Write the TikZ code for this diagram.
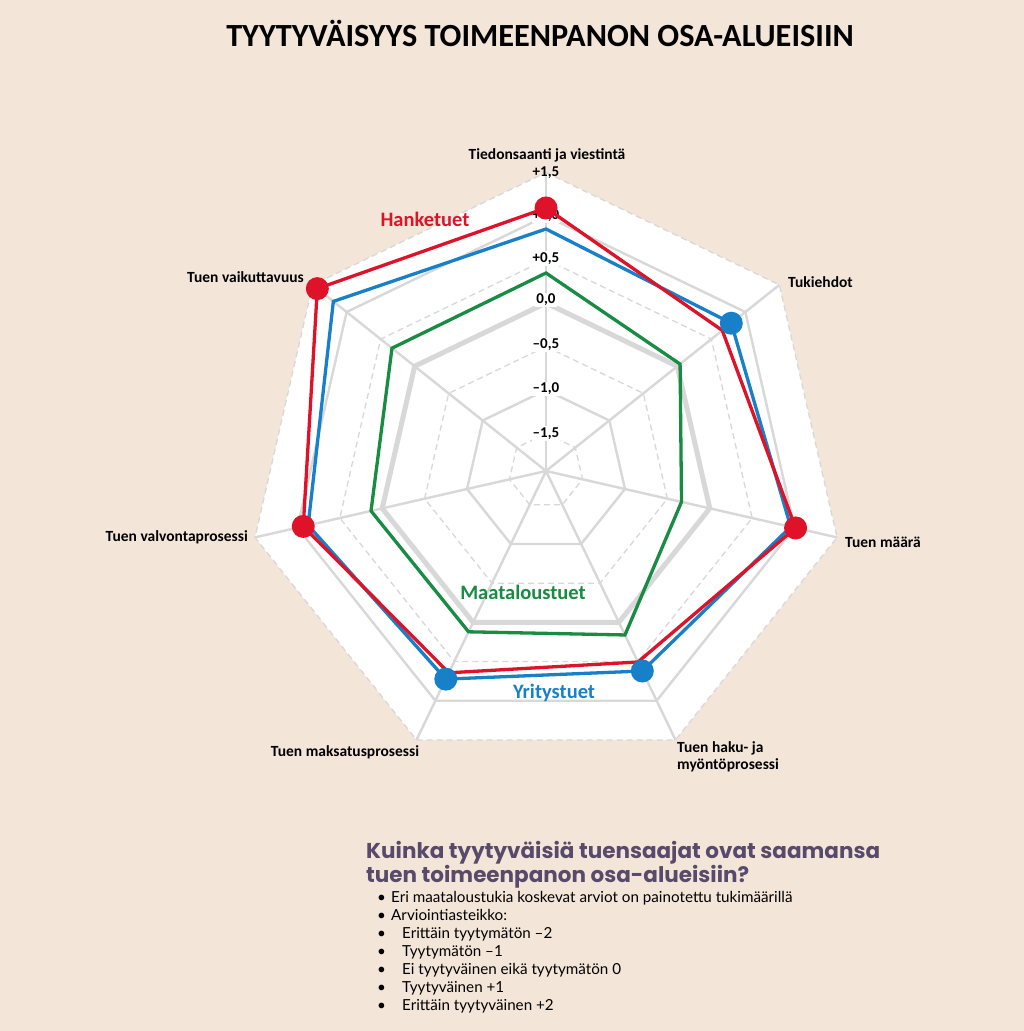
\documentclass[tikz,border=0pt]{standalone}
\usepackage{fontspec}
\setmainfont{Carlito}
\newfontfamily\headfont{Poppins}
\newfontfamily\listfont{Lato}
\definecolor{bgc}{RGB}{243,230,217}
\definecolor{redc}{RGB}{222,18,40}
\definecolor{bluec}{RGB}{24,128,200}
\definecolor{greenc}{RGB}{24,140,66}
\definecolor{gridc}{RGB}{216,216,216}
\definecolor{headc}{RGB}{88,74,106}
\tikzset{
  gridsolid/.style={draw=gridc, line width=2.4pt},
  gridthick/.style={draw=gridc, line width=5pt},
  griddash/.style={draw=gridc, line width=1.3pt, dash pattern=on 6pt off 4pt},
  redline/.style={draw=redc, line width=3.3pt, line join=miter},
  blueline/.style={draw=bluec, line width=3.3pt, line join=miter},
  greenline/.style={draw=greenc, line width=3.3pt, line join=miter},
  reddot/.style={circle, fill=redc, minimum size=23pt, inner sep=0pt},
  bluedot/.style={circle, fill=bluec, minimum size=23pt, inner sep=0pt},
  axlabel/.style={font=\bfseries\fontsize{15.5}{17}\selectfont, inner sep=1pt},
  scalelabel/.style={font=\bfseries\fontsize{15}{17}\selectfont, fill=white, inner sep=1.2pt},
  serlabel/.style={font=\bfseries\fontsize{20.5}{22}\selectfont, inner sep=0pt},
  headtext/.style={font=\headfont\bfseries\fontsize{21.5}{24}\selectfont, text=headc, anchor=west, inner sep=0pt, text height=16pt, text depth=3pt},
  listtext/.style={font=\listfont\fontsize{15.2}{17}\selectfont, anchor=west, inner sep=0pt, text height=11pt, text depth=3pt},
}
\begin{document}
\begin{tikzpicture}[x=1pt,y=1pt]
\fill[bgc] (0,0) rectangle (1024,1031);
\useasboundingbox (0,0) rectangle (1024,1031);

% title
\node[font=\bfseries\fontsize{32.3}{34}\selectfont] (title) at (540,998) {TYYTYVÄISYYS TOIMEENPANON OSA-ALUEISIIN};

\coordinate (C) at (546,560);
\begin{scope}[shift={(546,560)}]
  % outer white area
  \fill[white] (90:298.5) \foreach \k in {1,...,6}{ -- ({90-\k*360/7}:298.5)} -- cycle;
  % spokes
  \foreach \k in {0,...,6}{
    \coordinate (A\k) at ({90-\k*360/7}:298.5);
  }
  \foreach \k in {0,...,6}{ \draw[gridsolid] (C) -- (A\k); }
  % rings
  \foreach \r/\s in {37.5/griddash,81/gridsolid,124.5/griddash,168/gridthick,211.5/griddash,255/gridsolid,298.5/griddash}{
    \draw[\s] (90:\r) \foreach \k in {1,...,6}{ -- ({90-\k*360/7}:\r)} -- cycle;
  }
  % scale labels
  \node[scalelabel] (s1) at (90:37.5) {–1,5};
  \node[scalelabel] (s2) at (90:82) {–1,0};
  \node[scalelabel] (s3) at (90:126) {–0,5};
  \node[scalelabel] (s4) at (90:171) {0,0};
  \node[scalelabel] (s5) at (90:212.5) {+0,5};
  \node[scalelabel] (s6) at (90:255) {+1,0};
  \node[axlabel, font=\bfseries\fontsize{15}{17}\selectfont] (s7) at (90:298.5) {+1,5};

  % data: radii in px
  \foreach \k/\r in {0/263,1/225.5,2/256,3/212,4/224,5/249,6/292.5}{
    \coordinate (R\k) at ({90-\k*360/7}:\r);
  }
  \foreach \k/\r in {0/242,1/237,2/251,3/222,4/231,5/244,6/272}{
    \coordinate (B\k) at ({90-\k*360/7}:\r);
  }
  \foreach \k/\r in {0/198,1/171.5,2/139,3/182,4/178.5,5/179.5,6/197}{
    \coordinate (G\k) at ({90-\k*360/7}:\r);
  }
\end{scope}

\draw[greenline] (G0) -- (G1) -- (G2) -- (G3) -- (G4) -- (G5) -- (G6) -- cycle;
\draw[blueline] (B0) -- (B1) -- (B2) -- (B3) -- (B4) -- (B5) -- (B6) -- cycle;
\draw[redline] (R0) -- (R1) -- (R2) -- (R3) -- (R4) -- (R5) -- (R6) -- cycle;

\node[reddot] (dR0) at (R0) {};
\node[reddot] (dR2) at (R2) {};
\node[reddot] (dR5) at (R5) {};
\node[reddot] (dR6) at (R6) {};
\node[bluedot] (dB1) at (B1) {};
\node[bluedot] (dB3) at (B3) {};
\node[bluedot] (dB4) at (B4) {};

% axis labels
\node[axlabel] (l0) at (547,876) {Tiedonsaanti ja viestintä};
\node[axlabel, anchor=west] (l1) at (787,749) {Tukiehdot};
\node[axlabel, anchor=west] (l2) at (844,489) {Tuen määrä};
\node[axlabel, anchor=north west, align=left, font=\bfseries\fontsize{15.5}{17}\selectfont] (l3) at (676,291) {Tuen haku- ja\\myöntöprosessi};
\node[axlabel] (l4) at (345,279) {Tuen maksatusprosessi};
\node[axlabel, anchor=east] (l5) at (249,494) {Tuen valvontaprosessi};
\node[axlabel, anchor=east] (l6) at (305,754) {Tuen vaikuttavuus};

% series labels
\node[serlabel, text=redc] (hk) at (425,812) {Hanketuet};
\node[serlabel, text=greenc] (mt) at (523,439) {Maataloustuet};
\node[serlabel, text=bluec] (yt) at (554,338) {Yritystuet};

% bottom text
\node[headtext] (h1) at (366,179) {Kuinka tyytyväisiä tuensaajat ovat saamansa};
\node[headtext] (h2) at (366,155) {tuen toimeenpanon osa-alueisiin?};

\foreach \y/\name in {132/b1,114.5/b2,96.5/b3,78.5/b4,60/b5,42/b6,24/b7}{
  \node[listtext] (\name) at (377,\y) {•};
}
\node[listtext] (t1) at (391,132) {Eri maataloustukia koskevat arviot on painotettu tukimäärillä};
\node[listtext] (t2) at (391,114.5) {Arviointiasteikko:};
\node[listtext] (t3) at (402,96.5) {Erittäin tyytymätön –2};
\node[listtext] (t4) at (402,78.5) {Tyytymätön –1};
\node[listtext] (t5) at (402,60) {Ei tyytyväinen eikä tyytymätön 0};
\node[listtext] (t6) at (402,42) {Tyytyväinen +1};
\node[listtext] (t7) at (402,24) {Erittäin tyytyväinen +2};
\end{tikzpicture}
\end{document}
